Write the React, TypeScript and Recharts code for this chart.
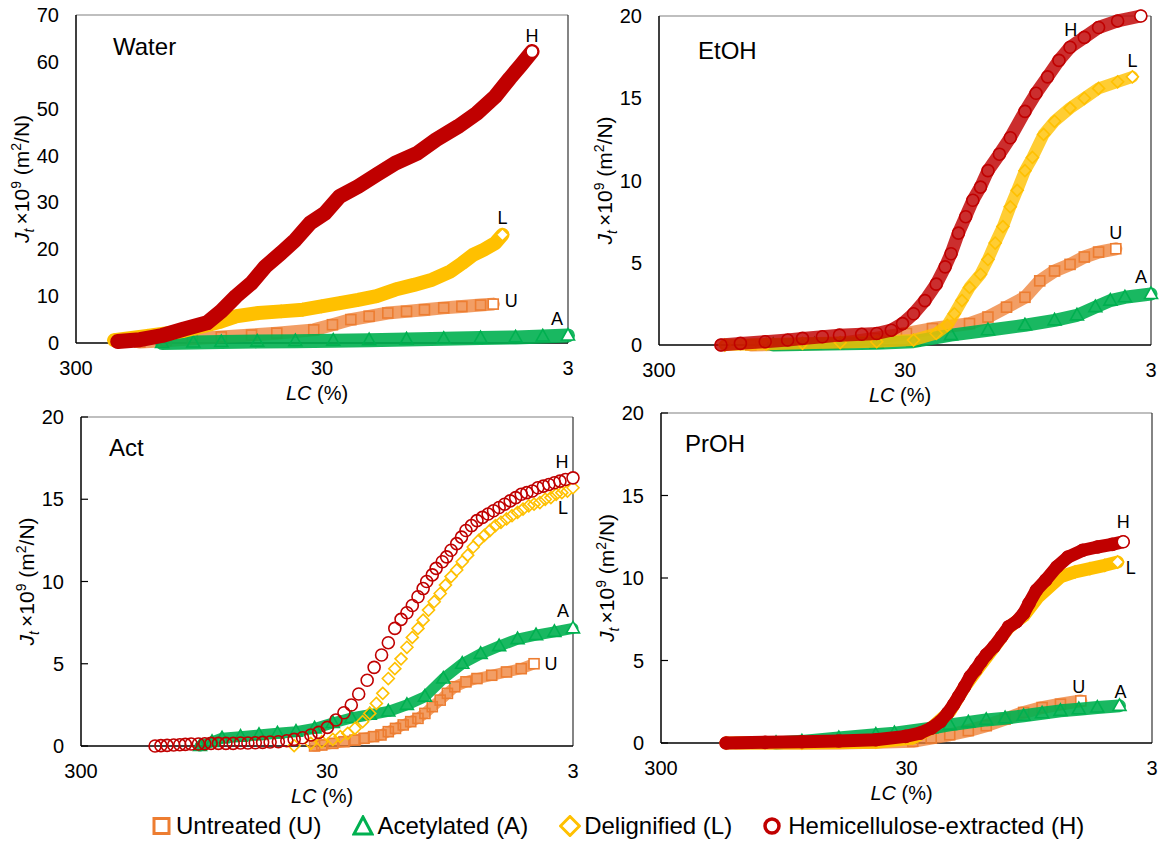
import React from "react";
import { ScatterChart, Scatter, XAxis, YAxis, ReferenceLine } from "recharts";

const FONT = '"Liberation Sans", Arial, Helvetica, sans-serif';

// series order everywhere: U, A, L, H
const seriesNames = ["Untreated (U)", "Acetylated (A)", "Delignified (L)", "Hemicellulose-extracted (H)"];
const seriesKeys = ["U", "A", "L", "H"];
const seriesColors = ["#ED7D31", "#00B050", "#FFC000", "#C00000"];
const seriesShapes = ["square", "triangle", "diamond", "circle"];

const lcTicks = [300, 30, 3];
const waterTicks = [0, 10, 20, 30, 40, 50, 60, 70];
const solventTicks = [0, 5, 10, 15, 20];

type Pt = [number, number]; // [LC (%), Jt x 1e9]

// ---- Water ----
const waterU: Pt[] = [[165,0.2],[129,0.5],[101,0.9],[77,1.3],[58,1.7],[45.8,2.1],[32.4,2.8],[27.2,3.9],[22.9,5.0],[19.3,5.7],[16.2,6.4],[13.6,6.75],[11.5,7.1],[9.6,7.5],[8.1,7.8],[6.8,8.1],[6.04,8.3]];
const waterA: Pt[] = [[134,0],[100,0.1],[77,0.2],[55,0.3],[38.5,0.4],[27,0.5],[19.3,0.6],[13.6,0.75],[9.6,0.9],[6.8,1.05],[4.9,1.2],[3.8,1.4],[3.0,1.6]];
const waterL: Pt[] = [[210,0.6],[154,1.5],[109,2.6],[88,3.8],[77,4.6],[67,5.7],[54.4,6.4],[44,6.75],[35.9,7.1],[30.2,7.8],[25.4,8.5],[21.4,9.2],[18,10],[15.1,11.4],[12.7,12.4],[10.7,13.5],[9.0,15.3],[8.1,17],[7.3,18.8],[6.6,19.9],[5.93,21.3],[5.54,23.1]];
const waterH: Pt[] = [[203,0.3],[165,0.7],[134,1.6],[109,3.0],[88,4.3],[77,6.8],[67,10],[58,12.8],[51,16.3],[44,19.2],[38.5,22],[33.5,25.6],[29.2,27.7],[25.4,31.3],[21.4,33.4],[18,35.9],[15.1,38.4],[12.3,40.5],[10.3,43.4],[8.4,46.2],[7.05,49],[5.93,52.6],[5.17,56.5],[4.66,59.3],[4.2,62.2]];

// ---- EtOH ----
const etohU: Pt[] = [[127,0],[90,0.05],[55.4,0.1],[40,0.4],[29.6,0.7],[23.2,1.0],[16.4,1.3],[13.8,1.7],[11.6,2.3],[9.76,2.9],[8.5,3.9],[7.4,4.5],[6.4,4.9],[5.6,5.35],[4.9,5.65],[4.17,5.85]];
const etohA: Pt[] = [[103,0],[70,0.05],[39.1,0.1],[27.7,0.2],[19.5,0.6],[13.8,0.9],[9.76,1.2],[7.4,1.5],[6.0,1.8],[5.05,2.3],[4.39,2.7],[3.83,2.9],[3.0,3.1]];
const etohL: Pt[] = [[162,0],[110,0.05],[78.3,0.1],[55,0.15],[39.1,0.2],[27.7,0.3],[22.4,0.7],[20.2,1.2],[18.9,1.9],[17.6,2.7],[16.4,3.5],[14.8,4.3],[13.8,5.2],[12.9,6.2],[12.0,7.2],[11.2,8.4],[10.5,9.4],[9.76,10.6],[9.1,11.4],[8.2,12.8],[7.4,13.6],[6.4,14.4],[5.6,15.0],[4.9,15.6],[4.1,16.0],[3.57,16.3]];
const etohH: Pt[] = [[168,0],[140,0.1],[111,0.2],[90,0.3],[78.3,0.4],[65,0.5],[55.4,0.6],[45,0.65],[39.1,0.7],[34.1,0.9],[30.7,1.3],[27.7,1.9],[24.9,2.7],[22.4,3.7],[20.6,4.75],[19.5,5.55],[18.2,6.8],[17.0,7.8],[15.9,8.8],[14.8,9.6],[13.8,10.6],[12.4,11.6],[11.2,12.6],[9.76,14.2],[8.8,15.3],[7.9,16.3],[7.1,17.3],[6.4,18.1],[5.6,18.7],[4.9,19.3],[4.1,19.7],[3.3,20.0]];

// ---- Act ----
const actU: Pt[] = [[33.7,0],[31.5,0.06],[28.4,0.16],[25.6,0.26],[23.1,0.36],[21.2,0.47],[19.4,0.57],[18.1,0.67],[16.9,0.87],[15.8,1.07],[14.7,1.28],[13.7,1.48],[12.8,1.68],[12.0,1.98],[11.2,2.39],[10.4,2.79],[9.72,3.2],[9.07,3.6],[8.17,3.9],[7.37,4.1],[6.42,4.3],[5.59,4.5],[4.87,4.7],[4.32,5.0]];
const actA: Pt[] = [[98.5,0],[88,0.25],[80.1,0.47],[67.4,0.57],[56.7,0.67],[47.7,0.77],[40.1,0.87],[33.7,1.07],[28.4,1.4],[23.9,1.7],[20.1,1.9],[16.9,2.1],[14.2,2.5],[12.0,3.0],[10.1,4.1],[8.46,5.0],[7.12,5.6],[5.99,6.07],[5.04,6.5],[4.24,6.74],[3.57,6.94],[3.0,7.15]];
const actL: Pt[] = [[40.8,0.02],[34.9,0.16],[31.5,0.26],[28.4,0.4],[26.5,0.57],[24.7,0.77],[23.1,1.07],[21.5,1.48],[20.1,1.98],[18.9,2.59],[17.8,3.2],[16.9,4.1],[15.9,4.7],[15.0,5.3],[14.2,6.0],[13.5,6.6],[12.8,7.15],[12.2,7.65],[11.6,8.26],[11.0,8.77],[10.4,9.27],[9.9,9.78],[9.39,10.3],[8.91,10.7],[8.46,11.2],[8.04,11.6],[7.63,12.1],[7.25,12.5],[6.88,12.8],[6.53,13.1],[6.2,13.4],[5.89,13.6],[5.59,13.8],[5.31,14.0],[5.04,14.2],[4.79,14.4],[4.54,14.6],[4.32,14.7],[4.09,14.8],[3.89,15.0],[3.69,15.1],[3.51,15.3],[3.33,15.4],[3.16,15.5],[3.0,15.7]];
const actH: Pt[] = [[150,0],[142,0.02],[134,0.04],[126,0.06],[119,0.08],[113,0.1],[107,0.12],[100,0.12],[94.2,0.14],[88.8,0.16],[82.9,0.16],[77.3,0.16],[72.2,0.16],[67.4,0.18],[62.9,0.18],[58.7,0.2],[54.8,0.22],[51.1,0.24],[47.3,0.26],[43.7,0.32],[40.8,0.4],[37.7,0.5],[34.9,0.67],[32.4,0.83],[29.9,1.13],[27.6,1.58],[25.6,2.02],[23.9,2.49],[22.3,3.16],[20.6,4.0],[19.3,4.78],[18.0,5.53],[16.9,6.28],[15.9,7.15],[15.0,7.7],[14.2,8.1],[13.5,8.54],[12.8,9.07],[12.2,9.57],[11.8,10.0],[11.2,10.4],[10.8,10.8],[10.2,11.2],[9.79,11.5],[9.39,11.9],[8.91,12.3],[8.52,12.7],[8.17,13.1],[7.76,13.4],[7.37,13.7],[7.0,13.9],[6.64,14.1],[6.31,14.3],[5.99,14.5],[5.69,14.7],[5.4,14.9],[5.13,15.1],[4.87,15.3],[4.62,15.4],[4.39,15.5],[4.17,15.7],[3.96,15.8],[3.76,15.9],[3.57,16.0],[3.39,16.1],[3.22,16.2],[3.0,16.3]];

// ---- PrOH ----
const prohU: Pt[] = [[149,0],[80,0],[56.6,0],[40,0.05],[28.3,0.1],[23.8,0.3],[20,0.5],[16.8,0.75],[14.2,1.05],[11.9,1.45],[10,1.85],[8.41,2.15],[7.08,2.35],[5.85,2.55]];
const prohA: Pt[] = [[102,0],[80,0.1],[56.6,0.3],[40,0.5],[33.6,0.6],[23.8,0.9],[20,1.1],[16.8,1.25],[14.2,1.4],[11.9,1.5],[10,1.65],[8.41,1.8],[7.08,1.95],[5.96,2.05],[5.01,2.15],[4.07,2.25]];
const prohL: Pt[] = [[163,0],[80,0],[40,0.05],[28.3,0.3],[23.8,0.9],[20,1.9],[17.4,3.4],[15.2,4.6],[13.2,5.8],[11.5,7.0],[10,7.7],[8.71,8.86],[7.85,9.46],[7.08,10.07],[6.17,10.37],[5.37,10.57],[4.67,10.77],[4.14,10.97]];
const prohH: Pt[] = [[163,0],[113,0.04],[80,0.08],[56.6,0.12],[40,0.2],[30.3,0.4],[26.4,0.6],[23.8,0.9],[21.8,1.31],[20.4,1.81],[19.3,2.32],[18.4,2.82],[17.4,3.42],[16.5,4.03],[15.7,4.43],[14.9,4.93],[14.2,5.34],[13.2,5.84],[12.3,6.44],[11.5,7.05],[10.7,7.35],[10.0,7.85],[9.51,8.46],[8.87,9.26],[8.13,9.87],[7.33,10.67],[6.6,11.27],[5.75,11.68],[5.01,11.88],[4.36,12.04],[3.93,12.2]];

function marker(kind: string, cx: number, cy: number, color: string, fill: string, sw: number) {
  if (kind === "circle") return <circle cx={cx} cy={cy} r={6} fill={fill} stroke={color} strokeWidth={sw} />;
  if (kind === "square") return <rect x={cx - 5} y={cy - 5} width={10} height={10} fill={fill} stroke={color} strokeWidth={sw} />;
  if (kind === "triangle")
    return <polygon points={`${cx},${cy - 7} ${cx - 6.5},${cy + 4.5} ${cx + 6.5},${cy + 4.5}`} fill={fill} stroke={color} strokeWidth={sw} />;
  return <polygon points={`${cx},${cy - 6} ${cx + 6},${cy} ${cx},${cy + 6} ${cx - 6},${cy}`} fill={fill} stroke={color} strokeWidth={sw} />;
}

function makeShape(i: number, dx: number, dy: number) {
  return (props: any) => {
    const { cx, cy, payload } = props;
    if (cx == null || cy == null) return <g />;
    const last = payload && payload.last;
    return (
      <g>
        {marker(seriesShapes[i], cx, cy, seriesColors[i], last ? "#fff" : "none", 1.6)}
        {last && (
          <text x={cx + dx} y={cy + dy + 6.5} textAnchor="middle" fontSize={18} fontFamily={FONT} fill="#000">
            {seriesKeys[i]}
          </text>
        )}
      </g>
    );
  };
}

const XTick = (props: any) => {
  const { x, y, payload } = props;
  return (
    <text x={x} y={y + 32} textAnchor="middle" fontSize={20} fontFamily={FONT} fill="#000">
      {payload.value}
    </text>
  );
};

const makeYTick = (inner: boolean) => (props: any) => {
  const { x, y, payload } = props;
  return (
    <g>
      {inner && <line x1={x} x2={x + 7} y1={y} y2={y} stroke="#000" strokeWidth={1.2} />}
      <text x={x - 17} y={y + 7} textAnchor="end" fontSize={20} fontFamily={FONT} fill="#000">
        {payload.value}
      </text>
    </g>
  );
};

interface PanelProps {
  box: [number, number, number, number];
  yMax: number;
  yTicks: number[];
  inner: boolean;
  series: Pt[][];
  bands: number[];
  opac: number[];
  labels: [number, number][];
}

function Panel({ box, yMax, yTicks, inner, series, bands, opac, labels }: PanelProps) {
  const [px, py, pw, ph] = box;
  const ML = 76, MT = 15, MR = 8, XH = 60;
  return (
    <div style={{ position: "absolute", left: px - ML, top: py - MT }}>
      <ScatterChart width={ML + pw + MR} height={MT + ph + XH + 2} margin={{ top: MT, right: MR, bottom: 2, left: 0 }}>
        <XAxis
          type="number"
          dataKey="x"
          scale="log"
          domain={[3, 300]}
          reversed
          ticks={lcTicks}
          interval={0}
          tickSize={0}
          tickMargin={0}
          tickLine={false}
          axisLine={{ stroke: "#000", strokeWidth: 1.5 }}
          tick={XTick}
          height={XH}
        />
        <YAxis
          type="number"
          dataKey="y"
          domain={[0, yMax]}
          ticks={yTicks}
          interval={0}
          width={ML}
          tickSize={0}
          tickMargin={0}
          tickLine={false}
          axisLine={{ stroke: "#000", strokeWidth: 1.5 }}
          tick={makeYTick(inner)}
        />
        <ReferenceLine y={yMax} stroke="#808080" strokeWidth={1.2} />
        <ReferenceLine x={3} stroke="#333" strokeWidth={1.2} />
        {series.map((pts, i) => (
          <Scatter
            key={seriesKeys[i]}
            data={pts.map((p, j) => ({ x: p[0], y: p[1], last: j === pts.length - 1 }))}
            fill={seriesColors[i]}
            shape={makeShape(i, labels[i][0], labels[i][1])}
            line={
              bands[i] > 0
                ? { stroke: seriesColors[i], strokeWidth: bands[i], strokeOpacity: opac[i], strokeLinejoin: "round", strokeLinecap: "round" }
                : false
            }
            isAnimationActive={false}
          />
        ))}
      </ScatterChart>
    </div>
  );
}

function YLabel({ cx, cy }: { cx: number; cy: number }) {
  return (
    <text transform={`translate(${cx},${cy}) rotate(-90)`} x={0} y={7} textAnchor="middle" fontSize={21} fontFamily={FONT} fill="#000">
      <tspan fontStyle="italic">J</tspan>
      <tspan fontStyle="italic" fontSize={14} dy={5}>t</tspan>
      <tspan dy={-5}>{"\u2009×10"}</tspan>
      <tspan fontSize={14} dy={-8}>9</tspan>
      <tspan dy={8}>{" (m"}</tspan>
      <tspan fontSize={14} dy={-8}>2</tspan>
      <tspan dy={8}>/N)</tspan>
    </text>
  );
}

function XLabel({ cx, y }: { cx: number; y: number }) {
  return (
    <text x={cx} y={y} textAnchor="middle" fontSize={20} fontFamily={FONT} fill="#000">
      <tspan fontStyle="italic">LC</tspan> (%)
    </text>
  );
}

function LegendIcon({ i }: { i: number }) {
  const c = seriesColors[i];
  const k = seriesShapes[i];
  return (
    <svg width={22} height={22} style={{ display: "block" }}>
      {k === "square" && <rect x={3} y={3.5} width={15} height={15} fill="none" stroke={c} strokeWidth={3} />}
      {k === "triangle" && <polygon points="11,2 2,19 20,19" fill="none" stroke={c} strokeWidth={3} strokeLinejoin="miter" />}
      {k === "diamond" && <polygon points="11,1.5 20.5,11 11,20.5 1.5,11" fill="none" stroke={c} strokeWidth={3} />}
      {k === "circle" && <circle cx={9} cy={11} r={7} fill="none" stroke={c} strokeWidth={3.5} />}
    </svg>
  );
}

const panels = [
  { title: "Water", box: [76, 15, 492, 328], t: [37, 40], yMax: 70, yTicks: waterTicks, inner: false,
    series: [waterU, waterA, waterL, waterH], bands: [13, 14, 14, 15], opac: [0.75, 0.9, 1, 1],
    labels: [[18, -4], [-11, -17], [0, -17], [0, -16]] },
  { title: "EtOH", box: [659, 16, 492, 329], t: [39, 43], yMax: 20, yTicks: solventTicks, inner: false,
    series: [etohU, etohA, etohL, etohH], bands: [13, 13, 12, 13], opac: [0.75, 0.9, 0.8, 0.82],
    labels: [[0, -16], [-10, -18], [0, -16], [-70, 13]] },
  { title: "Act", box: [81, 417, 492, 329], t: [28, 39], yMax: 20, yTicks: solventTicks, inner: true,
    series: [actU, actA, actL, actH], bands: [11, 11, 0, 0], opac: [0.75, 0.9, 1, 1],
    labels: [[17, 0], [-10, -18], [-10, 20], [-11, -16]] },
  { title: "PrOH", box: [661, 413, 491, 330], t: [24, 39], yMax: 20, yTicks: solventTicks, inner: true,
    series: [prohU, prohA, prohL, prohH], bands: [13, 13, 13, 13], opac: [0.75, 0.9, 1, 1],
    labels: [[-2, -14], [1, -14], [13, 6], [0, -20]] },
];

export default function App() {
  return (
    <div style={{ position: "absolute", left: 0, top: 0, width: 1160, height: 843, background: "#fff", overflow: "hidden", fontFamily: FONT }}>
      {panels.map((p) => (
        <Panel
          key={p.title}
          box={p.box as [number, number, number, number]}
          yMax={p.yMax}
          yTicks={p.yTicks}
          inner={p.inner}
          series={p.series}
          bands={p.bands}
          opac={p.opac}
          labels={p.labels as [number, number][]}
        />
      ))}
      <svg width={1160} height={843} style={{ position: "absolute", left: 0, top: 0, pointerEvents: "none" }}>
        {panels.map((p) => {
          const [px, py, pw, ph] = p.box;
          return (
            <g key={p.title}>
              <text x={px + p.t[0]} y={py + p.t[1]} fontSize={24} fontFamily={FONT} fill="#000">{p.title}</text>
              <YLabel cx={px - 54} cy={py + ph / 2} />
              <XLabel cx={px + pw / 2 - 5} y={py + ph + 57} />
            </g>
          );
        })}
      </svg>
      <div style={{ position: "absolute", left: 151, top: 812, height: 28, display: "flex", alignItems: "center", fontSize: 24, color: "#000", whiteSpace: "nowrap" }}>
        {seriesNames.map((n, i) => (
          <div key={n} style={{ display: "flex", alignItems: "center", marginRight: 31 }}>
            <LegendIcon i={i} />
            <span style={{ marginLeft: 3 }}>{n}</span>
          </div>
        ))}
      </div>
    </div>
  );
}
